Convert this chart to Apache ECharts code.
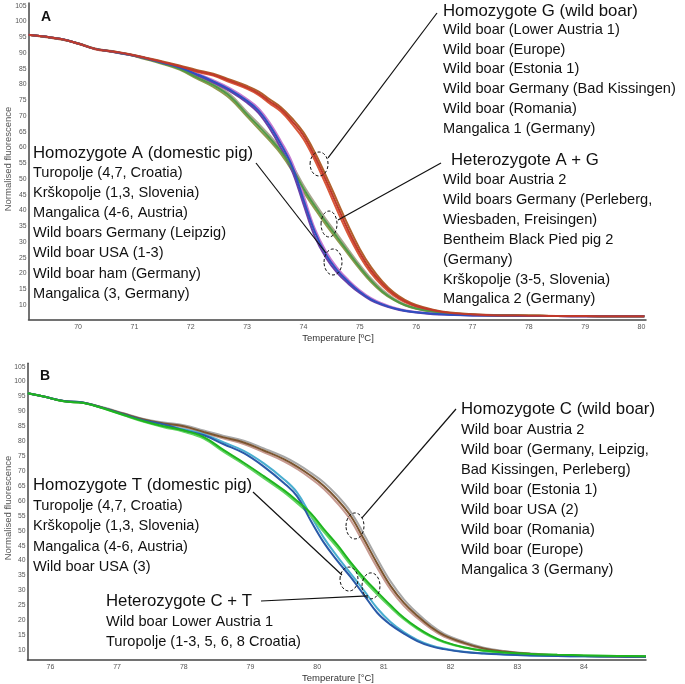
<!DOCTYPE html>
<html><head><meta charset="utf-8">
<script src="https://cdn.jsdelivr.net/npm/echarts@6/dist/echarts.min.js"></script>
<style>html,body{margin:0;padding:0;background:#fff}#c{width:685px;height:684px}</style>
</head><body><div id="c"></div><script>
// ---------- Panel A data ----------
const tempA = [69.12,69.4,69.7,70.0,70.3,70.6,70.9,71.2,71.5,71.8,72.1,72.4,72.7,73.0,73.2,73.4,73.6,73.8,74.0,74.2,74.4,74.6,74.8,75.0,75.2,75.4,75.6,75.8,76.0,76.3,76.6,77.0,77.5,78.0,78.5,79.0,79.5,80.05];
const homG1 = [95.8,95.2,94.4,93.0,91.3,90.5,89.6,88.4,87.1,85.8,84.3,83.1,81.1,79.0,77.2,74.6,72.1,68.3,63.8,57.2,49.6,41.5,33.5,26.6,21.0,16.8,13.5,11.2,9.7,8.3,7.5,7.0,6.7,6.6,6.5,6.5,6.4,6.4];
const homG2 = [95.8,95.1,94.3,93.1,91.4,90.6,89.7,88.5,87.3,86.0,84.6,83.4,81.5,79.5,77.8,75.3,72.8,69.2,64.8,58.5,51.0,43.0,35.0,27.8,22.0,17.5,14.0,11.6,10.0,8.5,7.6,7.1,6.8,6.6,6.5,6.5,6.4,6.4];
const homG3 = [95.7,95.2,94.4,92.9,91.2,90.4,89.5,88.3,87.0,85.6,84.0,82.8,80.7,78.6,76.7,74.0,71.4,67.4,62.7,56.0,48.2,40.0,32.2,25.5,20.1,16.1,13.0,10.9,9.5,8.2,7.4,6.9,6.7,6.6,6.5,6.4,6.4,6.4];
const homA1 = [95.8,95.2,94.4,93.0,91.3,90.5,89.5,88.3,86.9,85.4,83.3,81.0,78.3,74.8,71.8,67.0,61.0,54.0,43.5,33.3,26.0,21.0,17.3,14.2,11.8,10.2,9.0,8.2,7.7,7.2,6.9,6.7,6.6,6.5,6.5,6.4,6.4,6.4];
const homA2 = [95.8,95.2,94.4,93.0,91.3,90.4,89.4,88.2,86.8,85.2,83.0,80.6,77.8,74.2,71.0,66.0,59.8,52.5,42.0,31.8,25.0,20.2,16.7,13.8,11.5,10.0,8.9,8.1,7.6,7.1,6.9,6.7,6.6,6.5,6.5,6.4,6.4,6.4];
const homA3 = [95.8,95.2,94.4,93.0,91.3,90.5,89.5,88.4,87.0,85.6,83.6,81.4,78.8,75.4,72.5,67.9,62.0,55.2,45.0,34.3,27.0,21.8,17.9,14.7,12.2,10.5,9.2,8.3,7.8,7.3,7.0,6.8,6.6,6.5,6.5,6.4,6.4,6.4];
const hetAG1 = [95.8,95.2,94.4,93.0,91.3,90.5,89.5,88.2,86.7,85.0,82.3,79.8,76.2,70.5,66.8,63.0,58.8,53.5,47.0,41.5,36.3,31.5,26.7,22.0,17.8,14.3,11.8,10.0,8.9,7.9,7.3,6.9,6.7,6.6,6.5,6.5,6.4,6.4];
const hetAG2 = [95.8,95.2,94.4,93.0,91.3,90.4,89.4,88.0,86.5,84.7,81.9,79.2,75.5,69.8,66.0,62.2,58.0,52.6,46.0,40.6,35.4,30.7,26.0,21.4,17.3,14.0,11.6,9.9,8.8,7.8,7.3,6.9,6.7,6.6,6.5,6.5,6.4,6.4];
const hetAG3 = [95.8,95.2,94.4,93.0,91.3,90.5,89.6,88.3,86.9,85.3,82.7,80.3,76.8,71.2,67.6,63.8,59.6,54.4,48.0,42.4,37.2,32.4,27.5,22.7,18.4,14.8,12.1,10.2,9.0,8.0,7.4,7.0,6.7,6.6,6.5,6.5,6.4,6.4];

// ---------- Panel B data ----------
const tempB = [75.66,75.9,76.2,76.5,76.8,77.1,77.4,77.7,78.0,78.3,78.6,78.9,79.2,79.5,79.7,79.9,80.1,80.3,80.5,80.7,80.9,81.1,81.3,81.5,81.7,81.9,82.2,82.5,82.8,83.2,83.6,84.0,84.5,84.93];
const homC1 = [96.1,95.0,93.5,92.9,91.2,89.2,87.3,86.0,85.0,83.1,81.3,79.6,76.9,74.0,71.5,68.5,65.0,60.5,55.0,47.2,39.0,31.5,25.8,21.5,17.8,15.0,12.4,10.5,9.5,8.7,8.2,8.0,7.8,7.7];
const homC2 = [96.1,95.0,93.5,92.9,91.3,89.4,87.5,86.3,85.4,83.6,81.8,80.2,77.6,74.8,72.4,69.5,66.2,61.8,56.4,48.8,40.6,33.0,27.0,22.4,18.5,15.5,12.8,10.8,9.7,8.8,8.3,8.0,7.8,7.7];
const homC3 = [96.1,95.0,93.4,92.8,91.1,89.1,87.2,85.8,84.7,82.8,80.9,79.1,76.3,73.3,70.7,67.6,64.0,59.3,53.6,45.7,37.6,30.3,24.8,20.7,17.2,14.5,12.1,10.3,9.4,8.6,8.2,8.0,7.8,7.7];
const homT1 = [96.1,95.0,93.5,92.9,91.1,89.0,87.0,85.6,83.7,82.0,79.0,76.0,71.5,66.0,61.5,53.5,46.0,40.0,34.5,28.5,22.5,18.5,15.5,13.0,11.3,10.3,9.3,8.8,8.5,8.2,8.0,7.9,7.8,7.7];
const homT2 = [96.1,95.0,93.5,92.9,91.1,89.0,87.1,85.7,84.0,82.4,79.6,76.8,72.6,67.3,62.8,55.2,47.6,41.4,35.7,30.0,24.0,19.4,16.0,13.4,11.6,10.5,9.4,8.9,8.5,8.2,8.0,7.9,7.8,7.7];
const hetCT1 = [96.1,95.0,93.4,92.8,91.0,88.8,86.7,85.0,83.6,81.4,77.0,72.8,68.3,63.6,60.0,56.0,50.5,45.3,39.5,34.2,29.5,25.0,20.8,17.5,14.8,12.8,10.9,9.8,9.2,8.7,8.4,8.2,8.0,7.9];
const hetCT2 = [96.1,95.0,93.4,92.8,91.0,88.7,86.5,84.7,83.2,80.9,76.4,72.2,67.6,62.9,59.2,55.1,49.6,44.4,38.6,33.4,28.7,24.3,20.3,17.1,14.5,12.6,10.8,9.7,9.1,8.7,8.4,8.2,8.0,7.9];

// ---------- ticks ----------
const xTicksA = [70,71,72,73,74,75,76,77,78,79,80];
const xTicksB = [76,77,78,79,80,81,82,83,84];
const yTicks = [10,15,20,25,30,35,40,45,50,55,60,65,70,75,80,85,90,95,100,105];

// ---------- texts ----------
const homGText = ['Homozygote G (wild boar)','Wild boar (Lower Austria 1)','Wild boar (Europe)','Wild boar (Estonia 1)','Wild boar Germany (Bad Kissingen)','Wild boar (Romania)','Mangalica 1 (Germany)'];
const hetAGText = ['Heterozygote A + G','Wild boar Austria 2','Wild boars Germany (Perleberg,','Wiesbaden, Freisingen)','Bentheim Black Pied pig 2','(Germany)','Krškopolje (3-5, Slovenia)','Mangalica 2 (Germany)'];
const homAText = ['Homozygote A (domestic pig)','Turopolje (4,7, Croatia)','Krškopolje (1,3, Slovenia)','Mangalica (4-6, Austria)','Wild boars Germany (Leipzig)','Wild boar USA (1-3)','Wild boar ham (Germany)','Mangalica (3, Germany)'];
const homCText = ['Homozygote C (wild boar)','Wild boar Austria 2','Wild boar (Germany, Leipzig,','Bad Kissingen, Perleberg)','Wild boar (Estonia 1)','Wild boar USA (2)','Wild boar (Romania)','Wild boar (Europe)','Mangalica 3 (Germany)'];
const homTText = ['Homozygote T (domestic pig)','Turopolje (4,7, Croatia)','Krškopolje (1,3, Slovenia)','Mangalica (4-6, Austria)','Wild boar USA (3)'];
const hetCTText = ['Heterozygote C + T','Wild boar Lower Austria 1','Turopolje (1-3, 5, 6, 8 Croatia)'];

const FONT = '"Liberation Sans", Arial, Helvetica, sans-serif';

function pairs(t, v) { return t.map((x, i) => [x, v[i]]); }
function ser(grid, t, v, color, w) {
  return { type: 'line', xAxisIndex: grid, yAxisIndex: grid, data: pairs(t, v),
    smooth: 0.4, symbol: 'none', showSymbol: false, silent: true,
    lineStyle: { color: color, width: w }, itemStyle: { color: color } };
}
function xAx(grid, min, max, ticks) {
  return { gridIndex: grid, type: 'value', min: min, max: max,
    axisLine: { show: true, onZero: false, lineStyle: { color: '#444', width: 1.5 } },
    axisTick: { show: false }, splitLine: { show: false },
    axisLabel: { customValues: ticks, fontSize: 7, color: '#555', margin: 4, fontFamily: FONT } };
}
function yAx(grid, min, max) {
  return { gridIndex: grid, type: 'value', min: min, max: max,
    axisLine: { show: true, onZero: false, lineStyle: { color: '#444', width: 1.5 } },
    axisTick: { show: false }, splitLine: { show: false },
    axisLabel: { customValues: yTicks, fontSize: 6.8, color: '#555', margin: 2, fontFamily: FONT } };
}

const chart = echarts.init(document.getElementById('c'), null, { renderer: 'canvas' });
chart.setOption({
  animation: false,
  backgroundColor: '#fff',
  grid: [
    { left: 28.5, top: 3, width: 617.5, height: 316.3 },
    { left: 27.5, top: 363.3, width: 618.5, height: 296.7 }
  ],
  xAxis: [xAx(0, 69.12, 80.08, xTicksA), xAx(1, 75.657, 84.93, xTicksB)],
  yAxis: [yAx(0, 5.46, 105.86), yAx(1, 6.65, 106.14)],
  series: [
    ser(0, tempA, hetAG3, '#a9a68f', 2),
    ser(0, tempA, hetAG2, '#8f9a4e', 2),
    ser(0, tempA, homA3, '#c47ad0', 2),
    ser(0, tempA, homA2, '#6a3fa8', 2),
    ser(0, tempA, homG2, '#b0602c', 2),
    ser(0, tempA, homG3, '#d8583a', 2),
    ser(0, tempA, hetAG1, '#4f9a45', 2),
    ser(0, tempA, homA1, '#2f4fc0', 2),
    ser(0, tempA, homG1, '#c0392b', 2),
    ser(1, tempB, homC2, '#a8a8a8', 2),
    ser(1, tempB, homC3, '#c79a90', 2),
    ser(1, tempB, homT2, '#4aaed0', 2),
    ser(1, tempB, hetCT2, '#62d562', 2),
    ser(1, tempB, homC1, '#7b5530', 2),
    ser(1, tempB, homT1, '#2a5aa8', 2),
    ser(1, tempB, hetCT1, '#1fb51f', 2)
  ]
});

// ---------- annotations ----------
const g = [];
function txt(s, x, y, size, opts) {
  g.push(Object.assign({ type: 'text', x: x, y: y, silent: true, z: 100,
    style: { text: s, font: (opts && opts.weight ? opts.weight + ' ' : '') + size + 'px ' + FONT,
      fill: (opts && opts.fill) || '#111', align: (opts && opts.align) || 'left', verticalAlign: 'middle' } },
    opts && opts.rotation ? { rotation: opts.rotation } : {}));
}
function block(lines, hx, hy, ix, iy, step) {
  txt(lines[0], hx, hy, 16.8);
  for (let i = 1; i < lines.length; i++) txt(lines[i], ix, iy + step * (i - 1), 14.6);
}
block(homGText, 443, 11, 443, 30, 19.7);
block(hetAGText, 451, 160, 443, 180, 19.9);
block(homAText, 33, 153, 33, 173, 20.1);
block(homCText, 461, 409, 461, 430, 20);
block(homTText, 33, 485, 33, 506, 20.3);
block(hetCTText, 106, 601, 106, 621.7, 20.6);

txt('A', 41, 17, 14, { weight: 'bold' });
txt('B', 40, 376, 14, { weight: 'bold' });
txt('Normalised fluorescence', 8, 159, 9.5, { align: 'center', rotation: Math.PI / 2, fill: '#555' });
txt('Normalised fluorescence', 8, 508, 9.5, { align: 'center', rotation: Math.PI / 2, fill: '#555' });
txt('Temperature [ºC]', 338, 338, 9.5, { align: 'center', fill: '#333' });
txt('Temperature [°C]', 338, 678, 9.5, { align: 'center', fill: '#333' });

function ell(grid, dx, dy, rx, ry) {
  const p = chart.convertToPixel({ gridIndex: grid }, [dx, dy]);
  g.push({ type: 'ellipse', silent: true, z: 100, shape: { cx: p[0], cy: p[1], rx: rx, ry: ry },
    style: { fill: 'transparent', stroke: '#111', lineWidth: 1, lineDash: [3, 2] } });
  return p;
}
function ln(x1, y1, x2, y2) {
  g.push({ type: 'line', silent: true, z: 100, shape: { x1: x1, y1: y1, x2: x2, y2: y2 },
    style: { stroke: '#111', lineWidth: 1.2 } });
}
let p;
p = ell(0, 74.277, 54.76, 9, 12); ln(437, 13, p[0] + 9, p[1] - 6);
p = ell(0, 74.454, 35.71, 8, 13); ln(441, 163, p[0] + 9, p[1] - 4);
p = ell(0, 74.525, 23.65, 9, 13); ln(256, 163, p[0] - 7, p[1] - 9);
p = ell(1, 80.567, 51.6, 9, 13); ln(456, 409, p[0] + 7, p[1] - 8);
p = ell(1, 80.477, 33.8, 9, 12); ln(253, 492, p[0] - 7, p[1] - 4);
p = ell(1, 80.807, 31.5, 9, 13); ln(261, 601, p[0] - 3, p[1] + 10);

chart.setOption({ graphic: g });
</script></body></html>
